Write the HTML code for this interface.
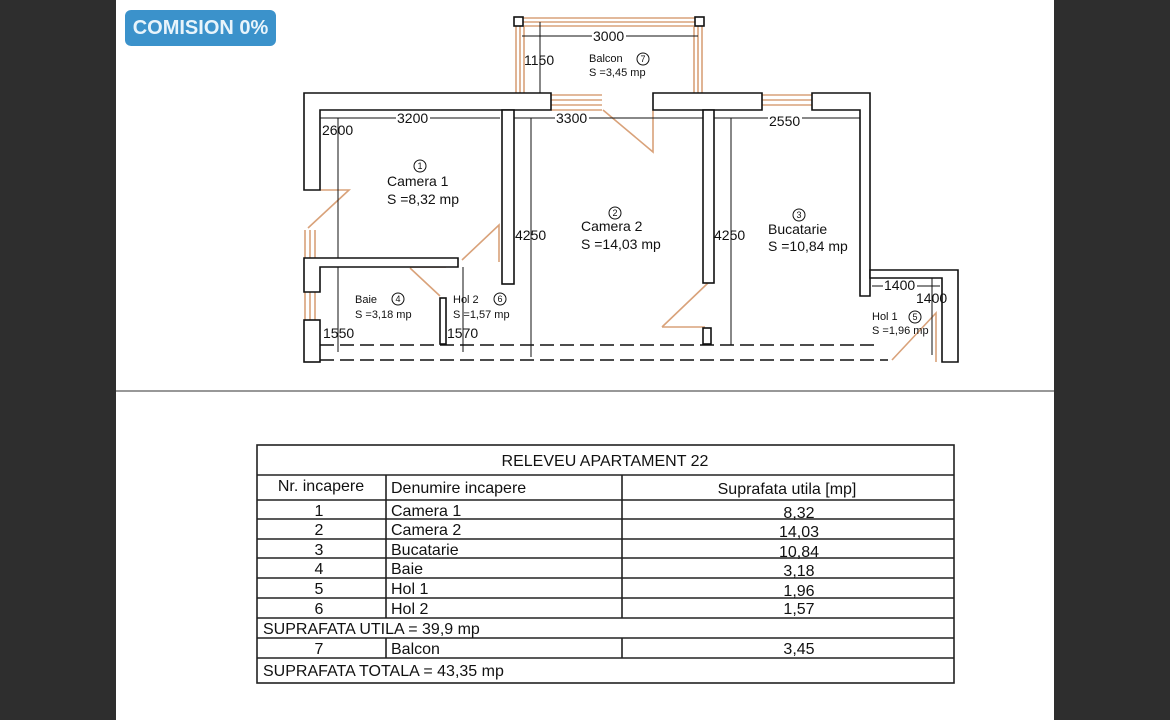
<!DOCTYPE html>
<html><head><meta charset="utf-8">
<style>
html,body{margin:0;padding:0;}
body{width:1170px;height:720px;background:#2e2e2e;position:relative;overflow:hidden;font-family:"Liberation Sans",Arial,sans-serif;}
#page{position:absolute;left:116px;top:0;width:938px;height:720px;background:#fff;}
#badge{position:absolute;left:125px;top:10px;width:151px;height:36px;background:#3b92cb;border-radius:6px;color:#e8f4fb;font-weight:bold;font-size:20px;line-height:36px;text-align:center;}
svg{position:absolute;left:0;top:0;}
.t{position:absolute;font-size:16px;color:#111;white-space:nowrap;}
.ln{position:absolute;background:#333;}
</style></head><body>
<div id="page"></div>
<div id="badge">COMISION 0%</div>
<svg width="1170" height="720" font-family="Liberation Sans, Arial, sans-serif">
<!-- separator -->
<line x1="116" y1="391" x2="1054" y2="391" stroke="#777" stroke-width="1.5"/>
<g stroke="#d9a27a" stroke-width="1.6" fill="none">
<!-- balcony -->
<path d="M516 22 V95 M520 22 V95 M524 26 V95"/>
<path d="M518 18 H700 M518 22 H700 M524 26 H694"/>
<path d="M694 26 V95 M698 22 V95 M702 22 V95"/>
<!-- windows -->
<path d="M551 95 H602 M551 100 H602 M551 105 H602 M551 110 H602"/>
<path d="M762 95 H812 M762 100 H812 M762 105 H812"/>
<path d="M305 230 V258 M310 230 V258 M315 230 V258"/>
<path d="M305 292 V320 M310 292 V320 M315 292 V320"/>
<!-- doors -->
<path d="M320 190 H349 L308 228"/>
<path d="M603 110 L653 152 V110"/>
<path d="M462 260 L499 225 V262"/>
<path d="M410 268 L440 296 M410 267 H446"/>
<path d="M662 327 L708 283 M662 327 H705"/>
<path d="M892 360 L936 313 V362"/>
</g>
<g stroke="#111" stroke-width="1.6" fill="#fff">
<rect x="514" y="17" width="9" height="9"/>
<rect x="695" y="17" width="9" height="9"/>
<!-- top walls -->
<path d="M304 93 H551 V110 H320 V190 H304 Z"/>
<path d="M653 93 H762 V110 H653 Z"/>
<path d="M812 93 H870 V296 H860 V110 H812 Z"/>
<!-- partitions -->
<rect x="502" y="110" width="12" height="174"/>
<rect x="703" y="110" width="11" height="173"/>
<rect x="703" y="328" width="8" height="16"/>
<!-- left wall lower -->
<path d="M304 258 H458 V267 H320 V292 H304 Z"/>
<rect x="304" y="320" width="16" height="42"/>
<rect x="440" y="298" width="6" height="46"/>
<!-- hol1 -->
<path d="M870 270 H958 V362 H942 V278 H870 Z"/>
</g>
<!-- dashed bottom -->
<g stroke="#111" stroke-width="1.6" stroke-dasharray="14,6">
<line x1="320" y1="345" x2="880" y2="345"/>
<line x1="320" y1="360" x2="888" y2="360"/>
</g>
<!-- dimension lines -->
<g stroke="#111" stroke-width="1">
<line x1="522" y1="36" x2="698" y2="36"/>
<line x1="540" y1="22" x2="540" y2="93"/>
<line x1="320" y1="118" x2="500" y2="118"/>
<line x1="514" y1="118" x2="703" y2="118"/>
<line x1="714" y1="118" x2="860" y2="118"/>
<line x1="338" y1="118" x2="338" y2="258"/>
<line x1="531" y1="118" x2="531" y2="357"/>
<line x1="731" y1="118" x2="731" y2="345"/>
<line x1="872" y1="286" x2="940" y2="286"/>
<line x1="932" y1="278" x2="932" y2="355"/>
<line x1="338" y1="267" x2="338" y2="352"/>
<line x1="463" y1="267" x2="463" y2="352"/>
</g>
<g font-size="14" fill="#111">
<rect x="592" y="29" width="34" height="14" fill="#fff"/><text x="593" y="41">3000</text>
<text x="524" y="65">1150</text>
<rect x="396" y="111" width="34" height="14" fill="#fff"/><text x="397" y="123">3200</text>
<rect x="555" y="111" width="34" height="14" fill="#fff"/><text x="556" y="123">3300</text>
<rect x="768" y="114" width="34" height="14" fill="#fff"/><text x="769" y="126">2550</text>
<text x="322" y="135">2600</text>
<text x="515" y="240">4250</text>
<text x="714" y="240">4250</text>
<rect x="883" y="279" width="34" height="14" fill="#fff"/><text x="884" y="290">1400</text>
<text x="916" y="303">1400</text>
<text x="323" y="338">1550</text>
<text x="447" y="338">1570</text>
<text x="387" y="186">Camera 1</text>
<text x="387" y="204">S =8,32 mp</text>
<text x="581" y="231">Camera 2</text>
<text x="581" y="249">S =14,03 mp</text>
<text x="768" y="234">Bucatarie</text>
<text x="768" y="251">S =10,84 mp</text>
</g>
<g font-size="11" fill="#111">
<text x="589" y="62">Balcon</text><text x="589" y="76">S =3,45 mp</text>
<text x="355" y="303">Baie</text><text x="355" y="318">S =3,18 mp</text>
<text x="453" y="303">Hol 2</text><text x="453" y="318">S =1,57 mp</text>
<text x="872" y="320">Hol 1</text><text x="872" y="334">S =1,96 mp</text>
</g>
<g stroke="#111" stroke-width="1" fill="none">
<circle cx="420" cy="166" r="6"/><circle cx="615" cy="213" r="6"/><circle cx="799" cy="215" r="6"/>
<circle cx="643" cy="59" r="6"/><circle cx="398" cy="299" r="6"/><circle cx="500" cy="299" r="6"/><circle cx="915" cy="317" r="6"/>
</g>
<g font-size="9" fill="#111" text-anchor="middle">
<text x="420" y="169">1</text><text x="615" y="216">2</text><text x="799" y="218">3</text>
<text x="643" y="62">7</text><text x="398" y="302">4</text><text x="500" y="302">6</text><text x="915" y="320">5</text>
</g>
<!-- table -->
<g stroke="#222" stroke-width="1.6" fill="none">
<rect x="257" y="445" width="697" height="238"/>
<line x1="257" y1="475" x2="954" y2="475"/>
<line x1="257" y1="500" x2="954" y2="500"/>
<line x1="257" y1="519" x2="954" y2="519"/>
<line x1="257" y1="539" x2="954" y2="539"/>
<line x1="257" y1="558" x2="954" y2="558"/>
<line x1="257" y1="578" x2="954" y2="578"/>
<line x1="257" y1="598" x2="954" y2="598"/>
<line x1="257" y1="618" x2="954" y2="618"/>
<line x1="257" y1="638" x2="954" y2="638"/>
<line x1="257" y1="658" x2="954" y2="658"/>
<line x1="386" y1="475" x2="386" y2="618"/>
<line x1="622" y1="475" x2="622" y2="618"/>
<line x1="386" y1="638" x2="386" y2="658"/>
<line x1="622" y1="638" x2="622" y2="658"/>
</g>
<g font-size="16" fill="#111">
<text x="605" y="466" text-anchor="middle">RELEVEU APARTAMENT 22</text>
<text x="321" y="491" text-anchor="middle">Nr. incapere</text>
<text x="391" y="493">Denumire incapere</text>
<text x="787" y="494" text-anchor="middle">Suprafata utila [mp]</text>
<text x="319" y="516" text-anchor="middle">1</text><text x="391" y="516">Camera 1</text><text x="799" y="518" text-anchor="middle">8,32</text>
<text x="319" y="535" text-anchor="middle">2</text><text x="391" y="535">Camera 2</text><text x="799" y="537" text-anchor="middle">14,03</text>
<text x="319" y="555" text-anchor="middle">3</text><text x="391" y="555">Bucatarie</text><text x="799" y="557" text-anchor="middle">10,84</text>
<text x="319" y="574" text-anchor="middle">4</text><text x="391" y="574">Baie</text><text x="799" y="576" text-anchor="middle">3,18</text>
<text x="319" y="594" text-anchor="middle">5</text><text x="391" y="594">Hol 1</text><text x="799" y="596" text-anchor="middle">1,96</text>
<text x="319" y="614" text-anchor="middle">6</text><text x="391" y="614">Hol 2</text><text x="799" y="614" text-anchor="middle">1,57</text>
<text x="263" y="634">SUPRAFATA UTILA = 39,9 mp</text>
<text x="319" y="654" text-anchor="middle">7</text><text x="391" y="654">Balcon</text><text x="799" y="654" text-anchor="middle">3,45</text>
<text x="263" y="676">SUPRAFATA TOTALA = 43,35 mp</text>
</g>
</svg>
</body></html>
